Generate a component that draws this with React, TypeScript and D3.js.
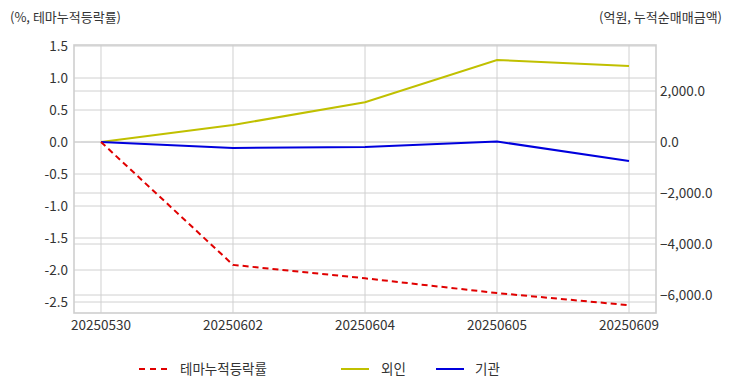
import React from "react";
import * as d3 from "d3";

const dates = ["20250530", "20250602", "20250604", "20250605", "20250609"];
const themeRate = [0, -1.92, -2.13, -2.36, -2.55];
const foreign = [0, 667, 1560, 3216, 2980];
const institution = [0, -235, -196, 20, -745];
const leftTicks = [1.5, 1.0, 0.5, 0.0, -0.5, -1.0, -1.5, -2.0, -2.5];
const rightTicks = [2000, 0, -2000, -4000, -6000];
const leftTitle = "(%, 테마누적등락률)";
const rightTitle = "(억원, 누적순매매금액)";
const legendNames = ["테마누적등락률", "외인", "기관"];

const W = 732, H = 392;
const plot = { left: 74, right: 656, top: 45, bottom: 313 };
const FONT = "'Noto Sans CJK KR', 'Noto Sans', sans-serif";
const TXT = "#333";

export default function App() {
  const x = d3.scalePoint<string>().domain(dates).range([plot.left, plot.right]).padding(0.2045);
  const yL = d3.scaleLinear().domain([-(313 - 142) / 64, (142 - 45) / 64]).range([plot.bottom, plot.top]);
  const yR = d3.scaleLinear().domain([-(171 / 51) * 2000, (97 / 51) * 2000]).range([plot.bottom, plot.top]);

  const lineL = d3.line<number>().x((_, i) => x(dates[i])!).y((d) => yL(d));
  const lineR = d3.line<number>().x((_, i) => x(dates[i])!).y((d) => yR(d));

  const fmtR = d3.format(",.1f");
  const grid = "#d0d0d0";

  return (
    <svg width={W} height={H} style={{ position: "absolute", left: 0, top: 0, fontFamily: FONT }}>
      <rect width={W} height={H} fill="#fff" />
      {leftTicks.map((t) => (
        <line key={"gl" + t} x1={plot.left} x2={plot.right} y1={yL(t)} y2={yL(t)} stroke={grid} strokeWidth={1} />
      ))}
      {rightTicks.map((t) => (
        <line key={"gr" + t} x1={plot.left} x2={plot.right} y1={yR(t)} y2={yR(t)} stroke={grid} strokeWidth={1} />
      ))}
      {dates.map((d) => (
        <line key={"gx" + d} x1={x(d)} x2={x(d)} y1={plot.top} y2={plot.bottom} stroke={grid} strokeWidth={1} />
      ))}
      <rect x={plot.left} y={plot.top} width={plot.right - plot.left} height={plot.bottom - plot.top} fill="none" stroke="#cfcfcf" strokeWidth={1.6} />

      {leftTicks.map((t) => (
        <text key={"tl" + t} x={68} y={yL(t)} dy="0.35em" textAnchor="end" fontSize={13.5} fill={TXT}>
          {t.toFixed(1)}
        </text>
      ))}
      {rightTicks.map((t) => (
        <text key={"tr" + t} x={660} y={yR(t)} dy="0.35em" textAnchor="start" fontSize={13.5} fill={TXT}>
          {fmtR(t)}
        </text>
      ))}
      {dates.map((d) => (
        <text key={"tx" + d} x={x(d)} y={325} dy="0.35em" textAnchor="middle" fontSize={13.5} fill={TXT}>
          {d}
        </text>
      ))}
      <text x={10} y={17} dy="0.35em" fontSize={13} fill={TXT}>{leftTitle}</text>
      <text x={722} y={17} dy="0.35em" textAnchor="end" fontSize={13} fill={TXT}>{rightTitle}</text>

      <path d={lineR(foreign)!} fill="none" stroke="#c0c000" strokeWidth={2} />
      <path d={lineR(institution)!} fill="none" stroke="#0000dd" strokeWidth={2} />
      <path d={lineL(themeRate)!} fill="none" stroke="#e00000" strokeWidth={2} strokeDasharray="6,4" />

      <g fontSize={13.5} fill={TXT}>
        <line x1={139} x2={167} y1={369} y2={369} stroke="#e00000" strokeWidth={2} strokeDasharray="6,5" />
        <text x={180} y={369} dy="0.35em">{legendNames[0]}</text>
        <line x1={341} x2={369} y1={369} y2={369} stroke="#c0c000" strokeWidth={2} />
        <text x={381} y={369} dy="0.35em">{legendNames[1]}</text>
        <line x1={436} x2={464} y1={369} y2={369} stroke="#0000dd" strokeWidth={2} />
        <text x={475} y={369} dy="0.35em">{legendNames[2]}</text>
      </g>
    </svg>
  );
}
